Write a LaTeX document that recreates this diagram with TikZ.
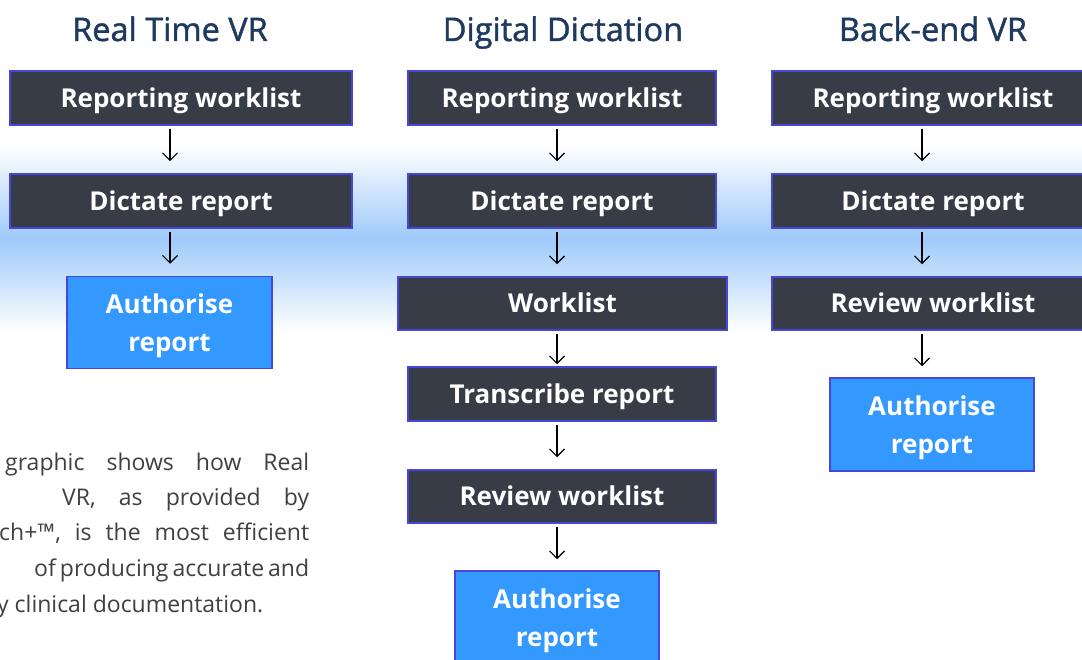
\documentclass[tikz,border=0pt]{standalone}
\usepackage{fontspec}
\setmainfont{Open Sans}
\newfontfamily\titlefont[FakeBold=1.3]{Open Sans}
\usetikzlibrary{arrows.meta}
\definecolor{boxdark}{HTML}{373C46}
\definecolor{boxblue}{HTML}{3399FF}
\definecolor{boxedge}{HTML}{4646DC}
\definecolor{gradblue}{HTML}{9ECAFA}
\definecolor{titlecol}{HTML}{1F3A60}
\definecolor{bodycol}{HTML}{404040}
\newcommand{\twoline}[2]{\raisebox{-2.5pt}[\height][\depth]{\begin{tabular}{@{}c@{}}#1\\#2\end{tabular}}}
\tikzset{
  dbox/.style={draw=boxedge, line width=1.5pt, fill=boxdark, text=white,
    font=\fontsize{26}{32}\selectfont\bfseries, inner sep=0pt, minimum height=54pt,
    text height=18.6pt, text depth=0pt},
  bbox/.style={draw=boxedge, line width=1.5pt, fill=boxblue, text=white,
    font=\fontsize{26}{38}\selectfont\bfseries, inner sep=0pt, minimum width=205pt, minimum height=92pt},
  ttl/.style={text=titlecol, font=\fontsize{32.5}{38}\selectfont\titlefont, inner sep=0pt, anchor=base},
  arr/.style={-{Straight Barb[length=7.5pt,width=15pt]}, line width=1.1pt, black, shorten <=3pt},
  bodytxt/.style={text=bodycol, font=\fontsize{23}{30}\selectfont, inner sep=0pt, anchor=base west}
}
\begin{document}
\begin{tikzpicture}[x=1pt,y=-1pt]
\useasboundingbox (0,0) rectangle (1082,660);
\clip (0,0) rectangle (1082,660);
\fill[white] (0,0) rectangle (1082,660);
\shade[top color=white, bottom color=white, middle color=gradblue] (0,145) rectangle (1082,332);

% titles
\node[ttl] (t1) at (170,41) {Real Time VR};
\node[ttl] (t2) at (563,41) {Digital Dictation};
\node[ttl] (t3) at (933,41) {Back-end VR};

% arrow x positions
\coordinate (c1) at (170,0);
\coordinate (c2) at (557,0);
\coordinate (c3) at (922,0);

% column 1
\node[dbox, minimum width=342pt] (a1) at (181,98) {Reporting worklist};
\node[dbox, minimum width=342pt] (a2) at (181,201) {Dictate report};
\node[bbox] (a3) at (169.5,322.5) {\twoline{Authorise}{report}};

% column 2
\node[dbox, minimum width=308pt] (b1) at (562,98) {Reporting worklist};
\node[dbox, minimum width=308pt] (b2) at (562,201) {Dictate report};
\node[dbox, minimum width=329pt, minimum height=53pt] (b3) at (562.5,303.5) {Worklist};
\node[dbox, minimum width=308pt] (b4) at (562,394) {Transcribe report};
\node[dbox, minimum width=308pt, minimum height=53pt] (b5) at (562,496.5) {Review worklist};
\node[bbox, minimum width=204pt] (b6) at (557,617) {\twoline{Authorise}{report}};

% column 3
\node[dbox, minimum width=322pt] (d1) at (933,98) {Reporting worklist};
\node[dbox, minimum width=322pt] (d2) at (933,201) {Dictate report};
\node[dbox, minimum width=322pt, minimum height=53pt] (d3) at (933,303.5) {Review worklist};
\node[bbox, minimum width=204pt, minimum height=93pt] (d4) at (932,424.5) {\twoline{Authorise}{report}};

% arrows
\draw[arr, shorten >=12pt] (a1.south -| c1) -- (a2.north -| c1);
\draw[arr, shorten >=12pt] (a2.south -| c1) -- (a3.north -| c1);

\draw[arr, shorten >=12pt] (b1.south -| c2) -- (b2.north -| c2);
\draw[arr, shorten >=12pt] (b2.south -| c2) -- (b3.north -| c2);
\draw[arr, shorten >=2pt] (b3.south -| c2) -- (b4.north -| c2);
\draw[arr, shorten >=12pt] (b4.south -| c2) -- (b5.north -| c2);
\draw[arr, shorten >=11pt] (b5.south -| c2) -- (b6.north -| c2);

\draw[arr, shorten >=12pt] (d1.south -| c3) -- (d2.north -| c3);
\draw[arr, shorten >=12pt] (d2.south -| c3) -- (d3.north -| c3);
\draw[arr, shorten >=11pt] (d3.south -| c3) -- (d4.north -| c3);

% body text (cropped at left)
\node[bodytxt] (p1) at (5,470) {\hbox to 304pt{graphic\hfill shows\hfill how\hfill Real}};
\node[bodytxt] (p2) at (62,505) {\hbox to 247pt{VR,\hfill as\hfill provided\hfill by}};
\node[bodytxt] (p3) at (-1,540) {\hbox to 310pt{ch+™,\hfill is\hfill the\hfill most\hfill efficient}};
\node[bodytxt] (p4) at (34,576) {\hbox to 275pt{of\hfill producing\hfill accurate\hfill and}};
\node[bodytxt] (p5) at (-3,612) {y clinical documentation.};
\end{tikzpicture}
\end{document}
